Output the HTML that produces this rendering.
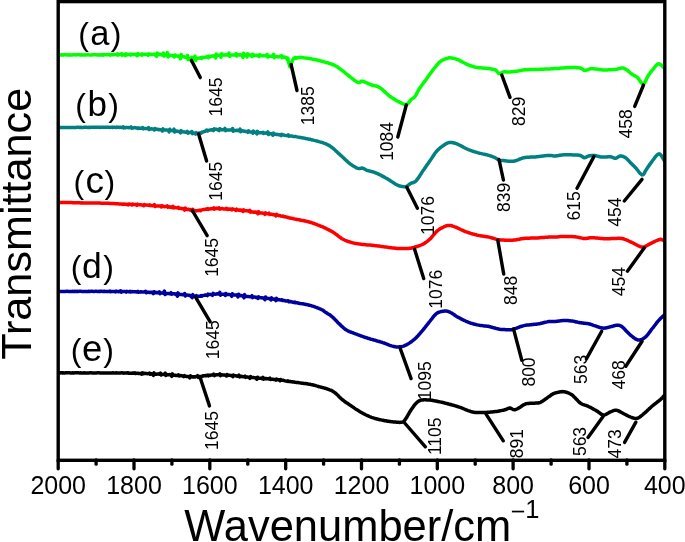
<!DOCTYPE html><html><head><meta charset="utf-8"><style>html,body{margin:0;padding:0;background:#fff;}svg{display:block;will-change:transform;}text{font-family:"Liberation Sans",sans-serif;}</style></head><body>
<svg width="685" height="542" viewBox="0 0 685 542">
<rect width="685" height="542" fill="#fff"/>
<path d="M58.5 54.9L59.0 55.0L59.6 54.9L60.2 54.9L60.9 54.9L61.7 54.8L62.4 54.9L63.3 55.0L64.1 54.8L65.0 54.8L66.0 54.8L67.0 54.9L68.0 54.9L69.0 54.8L70.1 55.0L71.1 54.9L72.2 54.9L73.4 54.8L74.5 54.8L75.7 54.9L76.8 54.8L78.0 54.8L79.2 54.8L80.4 54.9L81.5 54.8L82.7 54.9L83.9 54.9L85.1 54.8L86.2 54.9L87.4 54.8L88.5 54.8L89.6 54.9L90.7 54.9L91.8 54.9L92.8 54.8L93.8 54.8L94.8 54.8L95.8 54.7L96.7 54.9L97.6 54.9L98.4 54.8L99.2 54.9L100.0 54.9L101.5 54.7L102.8 55.2L103.5 54.5L104.0 54.7L105.1 54.6L106.2 54.8L107.1 54.8L108.0 54.7L108.8 54.6L109.6 54.7L110.4 55.1L111.1 54.4L111.2 54.5L112.0 54.7L112.7 54.7L113.6 54.7L114.4 54.5L115.4 54.6L116.4 54.8L117.5 53.9L118.2 55.1L118.7 54.6L120.0 54.5L120.8 54.5L121.6 53.6L122.3 55.3L122.5 54.4L123.4 54.8L124.4 54.6L125.4 55.6L126.1 53.8L126.4 54.4L127.4 54.7L128.4 54.4L129.5 54.4L130.6 55.1L131.3 54.0L131.7 54.2L132.8 54.4L133.9 54.5L135.0 54.3L136.1 54.5L137.2 55.7L137.9 53.6L138.4 54.2L139.5 54.6L140.6 54.5L141.7 55.1L142.4 53.9L142.8 54.4L143.9 54.5L145.0 54.3L146.0 54.4L147.1 54.2L148.1 55.1L148.8 53.9L149.0 54.2L150.0 54.5L150.9 54.2L151.8 54.5L152.7 54.4L153.5 54.3L154.3 54.2L155.0 54.5L156.6 56.3L157.3 53.1L158.0 54.5L159.3 54.3L160.5 54.5L161.6 54.9L162.5 54.9L163.4 53.0L164.1 56.1L164.3 54.8L165.1 54.9L165.9 55.1L166.7 55.0L167.4 52.6L168.1 57.1L168.3 55.4L169.1 55.5L170.0 55.3L171.1 55.4L172.2 55.4L173.3 55.9L174.3 56.9L175.0 55.0L175.4 55.9L176.5 56.1L177.5 55.9L178.5 56.4L179.5 56.0L180.5 58.8L181.2 54.5L181.4 56.5L182.2 56.6L183.0 56.8L184.3 56.8L185.5 57.3L186.5 57.7L187.5 55.3L188.2 59.6L188.3 58.1L189.2 58.2L190.0 58.7L191.1 60.8L191.8 57.3L192.1 58.8L193.1 59.0L194.0 58.9L195.0 56.1L195.7 60.4L196.0 58.5L197.0 58.4L198.0 58.3L199.0 58.1L200.0 58.0L200.8 57.8L201.5 58.5L202.2 57.3L202.3 57.7L203.4 57.6L205.0 57.5L205.7 57.1L206.5 56.8L207.4 56.8L208.3 57.7L209.0 56.2L209.3 56.6L210.3 56.7L211.3 56.3L212.4 56.0L213.5 55.9L214.6 55.7L215.7 57.9L216.4 54.1L216.8 55.6L217.9 55.3L219.0 55.1L220.0 55.2L221.0 57.1L221.7 53.7L222.0 55.0L223.0 54.9L224.0 55.0L225.0 54.9L226.0 54.8L227.0 54.9L228.0 55.0L229.0 53.0L229.7 56.4L230.0 55.0L231.0 54.9L232.0 55.1L233.0 54.9L234.0 55.1L235.0 55.1L236.0 53.6L236.7 56.0L237.0 54.8L238.0 54.8L239.0 55.0L240.0 54.8L241.0 55.1L242.0 54.9L243.0 57.4L243.7 53.3L244.0 54.8L245.0 55.0L246.0 55.1L247.0 57.0L247.7 53.7L248.0 55.0L249.0 54.9L250.0 54.9L251.0 55.1L252.0 56.5L252.7 54.2L253.0 55.2L254.0 55.5L255.0 55.3L256.0 55.6L257.0 55.2L258.0 55.6L259.0 56.6L259.7 54.7L260.0 55.6L261.0 55.4L262.0 55.6L263.0 55.7L264.0 55.9L265.0 55.7L266.0 55.9L267.1 54.4L267.8 57.0L268.2 55.8L269.2 56.2L270.4 56.3L271.5 56.3L272.6 56.4L273.6 54.4L274.3 57.7L274.7 56.4L275.7 56.6L276.7 56.5L277.6 56.8L278.5 56.9L279.3 56.7L280.0 56.6L281.5 55.6L282.2 57.8L282.6 56.7L283.5 57.1L284.2 56.9L284.9 57.3L285.5 57.2L286.6 57.9L287.3 59.6L288.0 58.2L288.0 60.2L289.0 63.6L289.8 66.6L290.6 65.4L291.5 63.2L292.4 60.7L293.5 58.7L294.3 58.2L295.1 57.3L295.8 58.4L296.1 57.8L297.0 57.8L297.7 57.8L298.3 57.4L299.3 57.4L301.0 57.6L301.7 57.6L302.4 57.6L303.3 57.7L304.2 57.9L305.1 57.9L306.1 58.1L307.2 58.2L308.2 58.3L309.3 58.5L310.5 58.7L311.6 58.8L312.7 59.2L313.9 59.5L315.0 59.5L315.9 59.7L316.8 59.9L317.8 60.4L318.8 60.5L319.8 60.8L320.9 61.0L322.0 61.2L323.0 61.6L324.1 61.8L325.1 62.2L326.2 62.5L327.2 62.7L328.2 62.9L329.1 63.3L330.0 63.6L330.9 63.9L331.7 64.2L332.5 64.5L333.8 65.0L334.9 65.5L335.8 66.0L336.6 66.5L337.4 66.9L338.2 67.5L339.0 68.2L340.1 68.9L341.3 69.8L342.1 70.4L343.0 71.1L344.0 71.9L345.0 72.7L346.0 73.6L347.1 74.5L348.3 75.4L349.4 76.3L350.5 77.2L351.6 78.0L352.6 78.9L353.6 79.7L354.6 80.4L355.5 81.1L356.3 81.6L357.0 82.0L358.4 82.6L359.4 82.6L360.1 82.1L360.7 81.7L361.3 81.2L362.3 81.2L363.1 81.4L364.0 81.7L364.9 82.1L365.9 82.5L366.9 83.0L368.0 83.4L369.0 83.9L370.0 84.3L371.0 84.7L372.0 85.0L372.9 85.3L373.9 85.5L374.9 85.8L375.9 86.0L376.9 86.3L377.8 86.6L378.8 87.1L379.8 87.6L380.8 88.3L381.8 89.1L382.8 89.9L383.8 90.9L384.9 91.9L385.8 92.8L386.8 93.7L387.7 94.5L388.6 95.3L389.6 96.1L390.6 96.8L391.6 97.5L392.5 98.0L393.3 98.6L394.2 99.1L395.0 99.6L395.9 100.2L396.8 100.7L397.7 101.2L398.5 101.6L399.4 102.1L400.3 102.5L401.1 102.9L402.0 103.3L402.9 103.8L403.9 104.3L404.8 104.5L405.6 104.6L406.4 104.6L407.4 104.1L408.3 103.2L409.1 102.1L410.0 100.9L410.8 99.9L411.7 99.2L412.5 98.6L413.4 98.0L414.2 97.4L415.1 96.4L415.9 95.1L416.7 93.6L417.5 92.0L418.5 90.2L419.5 88.5L420.4 87.2L421.3 85.9L422.3 84.5L423.4 83.1L424.4 81.7L425.5 80.3L426.5 78.9L427.5 77.5L428.5 76.1L429.5 74.7L430.5 73.3L431.5 71.9L432.5 70.6L433.5 69.3L434.5 68.0L435.5 66.8L436.5 65.5L437.5 64.4L438.5 63.3L439.5 62.2L440.5 61.4L441.5 60.7L442.6 60.1L443.7 59.6L444.7 59.2L445.8 58.8L446.7 58.6L447.5 58.3L448.5 57.9L449.2 57.8L450.0 57.8L451.0 57.9L451.8 58.0L452.7 58.2L453.7 58.4L454.7 58.6L455.8 58.9L456.9 59.3L458.0 59.7L458.9 60.1L459.8 60.6L460.8 61.1L461.8 61.6L462.8 62.3L463.8 62.8L464.8 63.3L465.8 63.8L466.8 64.3L467.8 64.7L468.8 65.1L469.7 65.4L470.7 65.8L471.7 66.1L472.7 66.5L473.7 66.7L474.6 67.0L475.6 67.2L476.6 67.4L477.6 67.6L478.6 67.7L479.6 67.8L480.6 67.8L481.5 67.9L482.5 68.0L483.4 68.1L484.3 68.2L485.4 68.3L486.5 68.4L487.6 68.6L488.6 68.6L489.5 68.7L490.5 68.8L491.3 69.0L492.4 69.2L493.3 69.3L494.1 69.5L494.9 69.7L495.7 70.1L496.6 70.9L497.4 72.0L498.3 73.1L499.2 73.6L500.0 73.5L500.8 73.2L501.7 72.7L502.6 72.2L503.6 71.9L504.4 71.8L505.2 71.8L506.1 71.9L506.9 71.9L507.9 72.0L508.9 72.0L510.0 72.0L510.8 71.9L511.7 71.8L512.7 71.8L513.7 71.6L514.8 71.5L515.8 71.3L516.8 71.2L517.7 71.0L518.5 70.9L519.3 70.8L520.4 70.6L521.1 70.4L521.7 70.2L522.5 70.1L524.0 69.9L524.7 69.8L525.5 69.8L526.3 69.7L527.2 69.7L528.1 69.7L529.1 69.7L530.1 69.6L531.2 69.6L532.3 69.6L533.4 69.6L534.5 69.5L535.7 69.5L536.8 69.4L538.0 69.4L538.9 69.4L539.8 69.3L540.8 69.3L541.8 69.3L542.8 69.2L543.8 69.2L544.8 69.1L545.9 69.0L547.0 69.0L548.0 69.0L549.1 68.9L550.1 68.9L551.2 68.8L552.2 68.7L553.1 68.7L554.1 68.7L555.0 68.6L555.9 68.6L556.7 68.5L557.9 68.4L559.1 68.4L560.1 68.2L561.1 68.1L562.1 68.0L563.0 68.0L563.9 67.9L564.8 67.8L565.6 67.7L566.5 67.7L567.4 67.6L568.4 67.6L569.4 67.6L570.4 67.6L571.5 67.6L572.6 67.5L573.6 67.6L574.7 67.6L575.7 67.6L576.7 67.7L577.7 67.7L578.6 67.8L579.4 67.9L580.1 68.0L581.5 68.5L582.4 69.0L583.1 69.6L583.8 70.2L584.8 70.4L585.6 70.4L586.5 70.1L587.4 69.8L588.4 69.5L589.4 69.1L590.5 68.8L591.8 68.7L592.6 68.7L593.5 68.7L594.4 68.9L595.4 69.0L596.3 69.1L597.4 69.2L598.4 69.3L599.4 69.5L600.5 69.7L601.5 69.8L602.5 69.9L603.5 69.9L604.5 69.9L605.5 69.9L606.5 69.9L607.5 69.9L608.6 69.8L609.6 69.8L610.6 69.8L611.6 69.7L612.5 69.6L613.4 69.6L614.3 69.5L615.1 69.4L616.4 69.2L617.5 69.0L618.5 68.7L619.5 68.4L620.4 68.2L621.3 68.0L622.1 68.0L623.2 68.1L624.1 68.4L625.0 68.9L625.9 69.3L626.8 69.9L627.7 70.5L628.6 71.4L629.5 72.2L630.5 73.1L631.5 73.9L632.4 74.4L633.3 75.0L634.3 75.5L635.3 76.0L636.3 76.6L637.3 77.4L638.3 78.5L639.3 79.9L640.3 81.4L641.3 82.7L642.3 83.6L643.2 83.9L644.2 83.2L645.2 81.7L646.1 79.9L647.0 77.9L647.9 76.2L648.8 74.8L649.7 73.6L650.6 72.3L651.5 71.1L652.5 69.9L653.4 68.8L654.4 67.5L655.4 66.2L656.4 65.1L657.4 64.3L658.4 63.8L659.4 64.0L660.6 64.6L661.7 65.5L662.7 66.5L663.6 67.5L664.2 68.0" fill="none" stroke="#00ff00" stroke-width="3.5" stroke-linejoin="round" stroke-linecap="round"/>
<path d="M59.2 127.5L59.7 127.5L60.3 127.4L60.9 127.4L61.6 127.5L62.3 127.5L63.1 127.5L63.9 127.5L64.8 127.5L65.6 127.5L66.6 127.4L67.5 127.4L68.5 127.4L69.5 127.5L70.6 127.4L71.6 127.4L72.7 127.5L73.8 127.4L75.0 127.4L76.1 127.5L77.2 127.3L78.4 127.3L79.6 127.4L80.7 127.3L81.9 127.4L83.1 127.4L84.3 127.3L85.4 127.3L86.6 127.3L87.8 127.4L88.9 127.3L90.0 127.4L91.1 127.3L92.2 127.3L93.3 127.3L94.4 127.3L95.4 127.3L96.4 127.3L97.4 127.3L98.3 127.2L99.2 127.3L100.1 127.4L100.9 127.3L101.7 127.3L103.0 127.3L104.3 127.3L105.5 127.3L106.7 127.2L107.8 127.3L108.9 127.3L109.9 127.4L110.9 127.3L111.9 127.1L112.6 127.5L112.8 127.4L113.7 127.2L114.6 127.2L115.5 127.4L116.3 127.6L117.0 127.1L117.2 127.2L118.0 127.3L118.9 127.3L119.7 127.4L120.6 127.2L121.4 127.4L122.3 127.3L123.2 126.9L123.9 127.9L124.1 127.4L125.1 127.7L126.1 127.5L127.1 127.6L128.0 127.5L129.0 127.7L130.0 127.6L131.0 126.9L131.7 128.3L131.9 127.6L132.9 127.9L133.9 127.8L134.9 127.8L135.8 127.8L136.8 127.9L137.8 128.5L138.5 127.8L138.8 128.2L139.7 128.3L140.7 128.3L141.7 128.1L142.7 127.6L143.4 128.8L143.6 128.5L144.6 128.4L145.6 128.6L146.6 128.5L147.5 128.7L148.5 127.6L149.2 129.5L149.5 128.9L150.5 128.9L151.4 128.8L152.4 128.9L153.4 128.9L154.4 130.0L155.1 128.5L155.4 129.2L156.4 129.1L157.4 129.3L158.4 129.7L159.4 129.5L160.4 129.7L161.4 129.9L162.4 131.0L163.1 128.9L163.4 130.0L164.4 130.1L165.3 130.0L166.3 130.0L167.2 130.1L168.2 130.4L169.1 131.9L169.8 129.3L170.0 130.2L170.9 130.3L171.8 130.4L172.9 130.7L174.0 129.2L174.7 132.0L175.1 130.8L176.2 130.9L177.3 131.3L178.4 131.4L179.5 131.4L180.5 132.9L181.2 130.6L181.6 131.6L182.6 131.7L183.6 131.9L184.6 132.0L185.5 132.2L186.4 132.1L187.3 131.3L188.0 133.1L188.2 132.5L189.0 132.6L189.8 132.6L190.5 132.5L191.9 131.5L192.6 133.7L193.0 133.0L194.0 133.1L194.9 133.4L195.6 134.1L196.3 132.7L196.4 133.2L197.1 133.2L197.8 133.3L198.7 133.1L199.6 133.2L200.5 132.8L201.4 133.1L202.1 132.1L202.3 132.2L203.3 131.9L204.2 131.5L205.1 131.3L206.0 130.7L206.9 130.0L207.6 131.0L207.8 130.4L208.8 130.3L209.8 130.1L210.7 130.1L211.7 129.8L212.6 129.7L213.5 130.6L214.2 128.8L214.3 129.4L215.0 129.3L215.9 129.1L216.3 129.2L217.0 129.4L219.0 130.6L219.7 128.7L219.6 129.5L220.4 129.6L221.2 129.5L222.0 129.8L222.9 129.8L223.9 129.8L224.9 128.4L225.6 130.7L225.9 129.9L227.0 130.0L228.1 129.9L229.2 130.0L230.4 129.9L231.5 130.0L232.6 128.5L233.3 131.3L233.7 130.1L234.8 130.4L235.9 130.5L237.0 130.2L238.0 130.4L239.0 130.8L240.0 129.0L240.7 131.8L241.0 130.9L242.0 131.0L243.0 130.8L244.0 131.2L245.0 131.3L246.0 131.4L247.0 131.4L247.9 132.3L248.6 130.8L248.9 131.7L249.9 131.9L250.9 132.0L251.9 132.0L252.9 133.3L253.6 131.1L253.9 132.2L254.9 132.2L255.9 132.3L256.9 133.9L257.6 131.4L257.9 132.6L258.9 132.6L259.9 132.8L260.9 132.7L261.9 132.8L262.9 132.3L263.6 133.5L263.9 133.2L264.9 133.1L265.9 133.1L266.9 133.5L267.9 131.9L268.6 134.5L268.9 133.4L269.9 133.9L270.9 133.7L271.9 133.7L272.9 135.2L273.6 133.1L273.9 133.9L274.9 134.3L275.9 134.3L276.9 134.6L277.9 134.6L278.9 134.7L280.0 134.9L281.0 135.7L281.7 134.3L282.0 135.0L283.1 135.1L284.1 135.1L285.1 135.4L286.2 135.6L287.2 135.7L288.2 134.9L288.9 136.2L289.2 135.9L290.2 136.1L291.2 136.0L292.1 136.1L293.1 136.5L294.0 136.5L294.9 136.6L296.0 136.6L297.0 136.9L298.0 137.1L299.0 137.3L300.0 137.5L301.0 137.6L302.0 137.8L302.9 138.0L303.9 138.1L304.8 138.3L305.7 138.5L306.6 138.7L307.5 138.8L308.3 139.0L309.2 139.2L310.0 139.3L311.1 139.6L312.2 140.0L313.2 140.1L314.3 140.4L315.3 140.6L316.3 140.9L317.2 141.2L318.2 141.3L319.0 141.6L319.9 141.9L320.7 142.1L321.4 142.3L322.7 142.7L323.7 143.1L324.6 143.4L325.4 143.7L326.2 144.0L327.0 144.5L328.0 144.9L328.9 145.4L329.8 145.9L330.8 146.6L332.0 147.5L332.8 148.2L333.7 148.9L334.7 149.8L335.7 150.7L336.7 151.6L337.7 152.6L338.8 153.6L339.8 154.5L340.8 155.4L341.8 156.3L342.8 157.2L343.7 158.1L344.7 159.1L345.7 160.0L346.7 160.9L347.6 161.7L348.6 162.6L349.5 163.3L350.5 164.1L351.6 164.9L352.6 165.6L353.7 166.3L354.7 166.8L355.6 167.4L356.5 167.9L357.4 168.2L358.4 168.4L359.4 168.5L360.3 168.4L361.1 168.2L361.9 168.1L362.7 168.2L363.6 168.5L364.3 168.9L365.0 169.3L365.9 169.8L367.0 170.3L367.8 170.6L368.6 170.8L369.5 171.0L370.5 171.3L371.5 171.5L372.6 171.8L373.6 172.1L374.7 172.5L375.8 172.9L376.7 173.3L377.6 173.7L378.5 174.1L379.5 174.6L380.5 175.0L381.4 175.6L382.4 176.1L383.4 176.6L384.4 177.1L385.3 177.7L386.3 178.2L387.3 178.8L388.3 179.4L389.3 180.0L390.3 180.7L391.4 181.4L392.4 182.1L393.4 182.7L394.3 183.3L395.2 183.9L396.0 184.4L396.8 184.8L398.0 185.4L399.0 185.8L399.8 186.0L400.5 186.2L401.2 186.3L402.0 186.4L402.9 186.6L403.8 186.7L404.7 186.7L405.5 186.6L406.4 186.4L407.3 186.0L408.1 185.4L409.0 184.7L409.9 184.0L410.8 183.4L411.6 183.0L412.4 182.8L413.3 182.5L414.2 182.2L415.1 181.7L416.1 180.8L417.0 179.7L418.0 178.4L419.0 177.0L420.0 175.4L421.1 173.7L422.1 172.1L423.1 170.6L424.1 169.2L425.1 167.7L426.1 166.3L427.1 164.8L428.1 163.4L429.1 162.0L430.1 160.6L431.1 159.1L432.1 157.6L433.0 156.2L434.0 154.7L435.0 153.3L436.0 152.0L437.1 150.7L438.0 149.8L438.9 148.9L439.9 148.1L440.8 147.3L441.8 146.6L442.7 145.9L443.7 145.3L444.5 144.7L445.3 144.2L446.3 143.6L447.2 143.1L448.0 142.8L448.7 142.5L449.6 142.4L450.5 142.4L451.4 142.4L452.3 142.5L453.2 142.7L454.2 143.0L455.2 143.3L456.3 143.7L457.5 144.2L458.3 144.5L459.2 145.0L460.1 145.4L461.1 145.9L462.0 146.4L463.0 146.9L464.0 147.5L465.0 148.0L466.0 148.5L467.0 149.0L468.0 149.4L469.0 149.8L469.9 150.1L470.9 150.5L471.8 150.9L472.8 151.2L473.7 151.5L474.7 151.8L475.6 152.1L476.6 152.3L477.5 152.6L478.5 152.9L479.5 153.2L480.5 153.4L481.5 153.6L482.5 153.9L483.5 154.1L484.5 154.3L485.4 154.5L486.4 154.7L487.3 154.9L488.2 155.2L489.0 155.4L490.2 155.8L491.4 156.2L492.4 156.6L493.4 157.0L494.4 157.4L495.2 157.8L496.0 158.2L497.1 158.9L498.0 159.6L498.7 160.2L499.5 160.6L500.2 160.7L500.8 160.7L501.6 160.6L503.0 160.6L503.7 160.6L504.5 160.7L505.4 160.8L506.3 160.9L507.3 161.1L508.4 161.2L509.5 161.3L510.5 161.3L511.6 161.3L512.6 161.3L513.6 161.2L514.6 161.0L515.5 160.8L516.4 160.5L517.4 160.1L518.3 159.8L519.2 159.3L520.2 159.0L521.1 158.6L522.1 158.2L523.1 157.9L524.1 157.7L525.0 157.5L525.9 157.4L526.8 157.3L527.7 157.2L528.7 157.2L529.6 157.2L530.6 157.1L531.5 157.0L532.5 157.0L533.4 157.0L534.4 157.0L535.4 156.9L536.3 156.8L537.3 156.7L538.2 156.6L539.3 156.4L540.3 156.3L541.3 156.2L542.3 156.1L543.3 155.9L544.3 155.8L545.2 155.7L546.2 155.6L547.0 155.5L547.8 155.4L548.6 155.4L549.8 155.4L550.8 155.5L551.7 155.6L552.4 155.7L553.2 155.9L554.0 156.0L555.0 156.0L555.8 155.9L556.7 155.8L557.7 155.7L558.6 155.5L559.6 155.3L560.5 155.2L561.5 155.0L562.5 154.9L563.4 154.8L564.3 154.8L565.3 154.7L566.2 154.7L567.1 154.7L568.1 154.7L569.0 154.7L569.9 154.7L570.9 154.8L571.8 154.8L572.8 154.9L573.7 154.9L574.8 154.9L575.8 155.0L576.8 155.0L577.7 155.1L578.6 155.2L579.5 155.3L580.2 155.5L581.3 155.9L582.2 156.5L582.9 157.0L583.6 157.5L584.4 157.7L585.2 157.6L586.0 157.3L586.8 156.8L587.7 156.3L588.6 156.0L589.5 155.8L590.3 155.7L591.3 155.6L592.3 155.5L593.3 155.4L594.4 155.5L595.3 155.6L596.2 155.8L597.1 156.1L598.0 156.3L599.0 156.5L600.0 156.8L601.0 157.0L602.0 157.1L602.9 157.1L603.9 157.1L604.9 157.1L605.9 157.0L606.9 156.9L607.8 156.8L608.7 156.8L609.6 156.8L610.4 156.8L611.6 157.0L612.6 157.4L613.6 157.8L614.5 158.2L615.4 158.2L616.4 158.0L617.4 157.4L618.4 156.8L619.4 156.2L620.4 156.0L621.2 156.0L622.1 156.2L622.9 156.4L623.8 156.8L624.7 157.2L625.5 157.7L626.5 158.5L627.5 159.5L628.5 160.5L629.5 161.6L630.5 162.7L631.5 163.7L632.4 164.6L633.4 165.5L634.4 166.6L635.5 167.7L636.4 168.7L637.4 170.0L638.4 171.3L639.4 172.6L640.4 173.7L641.4 174.5L642.2 174.9L643.2 174.7L644.0 173.8L644.7 172.4L645.5 170.9L646.4 169.4L647.3 168.1L648.2 166.8L649.2 165.3L650.2 163.8L651.3 162.4L652.3 161.0L653.2 159.8L654.2 158.5L655.2 157.1L656.2 155.9L657.2 154.8L658.1 154.1L659.0 153.8L660.0 154.2L661.0 155.2L662.0 156.6L662.8 158.1L663.6 159.4L664.1 160.2" fill="none" stroke="#008080" stroke-width="3.5" stroke-linejoin="round" stroke-linecap="round"/>
<path d="M59.2 202.5L59.7 202.5L60.3 202.6L60.9 202.5L61.6 202.5L62.3 202.5L63.1 202.6L63.9 202.5L64.8 202.6L65.6 202.6L66.6 202.6L67.5 202.6L68.5 202.6L69.5 202.6L70.6 202.6L71.6 202.6L72.7 202.7L73.8 202.7L75.0 202.8L76.1 202.8L77.2 202.8L78.4 202.8L79.6 202.8L80.7 202.9L81.9 202.8L83.1 202.9L84.3 202.9L85.4 202.9L86.6 202.9L87.8 202.9L88.9 202.9L90.0 203.0L91.1 203.0L92.2 203.0L93.3 203.0L94.4 203.1L95.4 203.0L96.4 203.1L97.4 203.1L98.3 203.1L99.2 203.1L100.1 203.1L100.9 203.2L101.7 203.2L103.0 203.2L104.3 203.3L105.5 203.3L106.7 203.3L107.8 203.3L108.9 203.3L109.9 203.5L110.9 203.6L111.9 203.5L112.8 203.6L113.7 203.5L114.6 203.6L115.5 203.8L116.3 203.8L117.2 203.8L118.0 203.8L118.9 203.9L119.7 204.0L120.6 204.1L121.4 204.0L122.3 204.2L123.2 204.1L124.1 204.2L125.1 204.1L126.1 204.4L127.1 204.3L128.0 204.9L128.7 204.0L129.0 204.4L130.0 204.3L131.0 204.5L131.9 204.9L132.6 204.2L132.9 204.6L133.9 204.4L134.9 204.5L135.8 204.5L136.8 205.3L137.5 204.2L137.8 204.8L138.8 204.8L139.7 204.7L140.7 204.8L141.7 204.9L142.7 205.1L143.6 205.7L144.3 204.5L144.6 205.2L145.6 204.9L146.6 205.1L147.5 205.1L148.5 205.3L149.5 204.9L150.2 205.7L150.5 205.6L151.4 205.4L152.4 205.7L153.4 205.5L154.4 204.6L155.1 206.5L155.4 205.7L156.4 205.9L157.4 205.9L158.4 205.9L159.4 206.0L160.4 206.0L161.4 207.0L162.1 205.7L162.4 206.1L163.4 206.2L164.4 206.7L165.3 206.6L166.3 206.6L167.2 205.9L167.9 207.3L168.2 206.8L169.1 206.7L170.0 207.2L170.9 206.9L171.8 207.4L172.9 206.3L173.6 208.0L174.0 207.4L175.1 207.4L176.2 207.7L177.3 207.9L178.4 207.4L179.1 208.4L179.5 208.0L180.6 208.5L181.7 208.4L182.7 208.8L183.7 208.8L184.7 210.2L185.4 208.1L185.6 209.2L186.5 209.0L187.4 209.6L188.3 209.3L189.0 209.5L189.8 209.9L190.5 209.6L192.1 211.0L192.8 209.4L193.3 210.2L194.2 210.5L194.9 210.6L195.7 210.8L196.5 210.9L197.5 210.5L198.3 210.5L199.2 210.5L200.1 210.0L200.8 210.6L201.0 210.1L201.9 209.9L202.8 209.6L203.8 209.4L204.8 209.5L205.8 209.1L206.9 209.2L207.7 208.5L208.4 209.4L208.5 209.0L209.4 209.0L210.2 208.9L211.0 208.7L211.9 208.8L212.8 208.5L213.7 207.8L214.4 209.2L214.7 208.7L215.7 208.5L216.7 208.3L217.8 208.4L219.0 207.9L219.7 209.1L219.8 208.8L220.7 208.9L221.6 208.6L222.5 208.6L223.5 208.9L224.5 209.0L225.5 208.9L226.5 208.3L227.2 209.4L227.6 209.0L228.6 209.0L229.7 209.2L230.7 209.0L231.8 209.9L232.5 208.9L232.8 209.3L233.9 209.3L234.9 209.8L236.0 210.4L236.7 209.2L237.0 209.9L238.0 209.9L239.0 210.2L240.0 209.9L241.0 210.4L242.0 210.2L243.0 211.4L243.7 209.8L244.0 210.6L245.0 210.8L246.0 210.7L247.0 210.8L247.9 210.9L248.9 211.2L249.9 210.3L250.6 212.2L250.9 211.6L251.9 211.8L252.9 211.9L253.9 212.2L254.9 212.0L255.9 212.3L256.9 212.2L257.9 213.7L258.6 211.7L258.9 212.8L259.9 212.9L260.9 213.0L261.9 213.1L262.9 213.2L263.9 213.2L264.9 214.3L265.6 212.8L265.9 213.6L266.9 213.7L267.9 213.8L268.9 213.2L269.6 214.4L269.9 214.1L270.9 214.2L271.9 214.3L272.9 214.7L273.9 214.6L274.9 215.0L275.9 215.9L276.6 214.4L276.9 215.1L277.9 215.2L278.9 215.6L280.0 215.7L281.0 216.1L282.0 216.3L283.1 216.0L283.8 216.7L284.1 216.8L285.1 216.7L286.2 217.0L287.2 217.2L288.2 217.5L289.2 217.9L290.2 218.0L291.2 218.2L292.1 218.4L293.1 218.5L294.0 218.8L294.9 219.1L296.0 219.3L297.0 219.5L298.0 219.6L299.0 219.8L300.0 220.0L301.0 220.3L302.0 220.4L302.9 220.5L303.9 220.7L304.8 221.0L305.7 221.1L306.6 221.4L307.5 221.5L308.3 221.7L309.2 222.0L310.0 222.2L311.1 222.5L312.2 222.9L313.3 223.2L314.4 223.7L315.4 224.0L316.4 224.4L317.4 224.8L318.3 225.1L319.2 225.5L320.0 225.8L320.7 226.2L321.4 226.4L322.7 226.9L323.4 227.2L323.9 227.4L325.0 228.0L325.8 228.3L326.6 228.8L327.6 229.2L328.6 229.7L329.6 230.4L330.7 230.9L331.8 231.5L332.8 232.1L333.8 232.7L334.8 233.3L335.7 234.1L336.7 234.8L337.7 235.5L338.6 236.3L339.6 237.1L340.6 237.7L341.5 238.4L342.5 239.0L343.5 239.5L344.5 240.0L345.4 240.4L346.4 240.8L347.4 241.2L348.4 241.5L349.3 241.8L350.3 242.1L351.3 242.4L352.2 242.7L353.1 242.9L353.9 243.1L354.7 243.3L355.5 243.4L356.5 243.6L357.5 243.7L358.6 243.9L360.0 244.1L360.8 244.2L361.6 244.3L362.4 244.4L363.3 244.5L364.2 244.6L365.2 244.7L366.2 244.8L367.2 244.9L368.2 245.0L369.2 245.1L370.3 245.1L371.3 245.2L372.4 245.3L373.4 245.5L374.5 245.6L375.5 245.7L376.5 245.8L377.5 245.9L378.5 246.0L379.5 246.1L380.5 246.3L381.5 246.4L382.5 246.6L383.5 246.7L384.5 246.9L385.6 247.0L386.6 247.1L387.6 247.3L388.6 247.4L389.6 247.6L390.5 247.7L391.5 247.8L392.4 247.9L393.3 248.0L394.2 248.1L395.0 248.2L396.1 248.3L397.2 248.4L398.3 248.5L399.3 248.5L400.4 248.5L401.3 248.5L402.3 248.6L403.2 248.6L404.1 248.6L404.9 248.6L405.8 248.6L406.5 248.5L407.3 248.5L408.6 248.4L409.6 248.3L410.6 248.2L411.5 248.0L412.3 247.8L413.3 247.6L414.3 247.3L415.2 247.0L416.2 246.7L417.2 246.5L418.2 246.1L419.2 245.8L420.2 245.4L421.2 245.0L422.2 244.5L423.1 244.1L424.2 243.5L425.2 242.8L426.2 242.1L427.2 241.4L428.2 240.6L429.1 239.8L430.1 238.9L431.1 237.9L432.1 236.7L433.1 235.5L434.1 234.3L435.1 233.1L436.1 232.0L437.1 231.0L438.0 230.3L439.0 229.6L439.9 228.9L440.9 228.4L441.8 227.9L442.7 227.4L443.6 227.0L444.4 226.6L445.4 226.2L446.3 225.8L447.1 225.6L447.9 225.5L448.7 225.4L449.6 225.4L450.4 225.5L451.2 225.6L452.0 225.8L452.8 226.1L453.7 226.4L454.7 226.8L455.8 227.2L456.6 227.5L457.4 227.9L458.3 228.3L459.2 228.8L460.2 229.2L461.2 229.7L462.2 230.2L463.2 230.6L464.2 231.1L465.3 231.5L466.3 231.9L467.2 232.2L468.1 232.5L469.0 232.8L470.0 233.1L470.9 233.4L471.9 233.7L472.9 234.0L473.9 234.2L474.8 234.5L475.8 234.7L476.7 235.0L477.6 235.2L478.5 235.4L479.5 235.6L480.5 235.8L481.6 236.0L482.6 236.1L483.5 236.2L484.5 236.4L485.4 236.5L486.4 236.7L487.3 236.8L488.1 236.9L489.0 237.1L490.1 237.4L491.2 237.7L492.2 238.0L493.2 238.3L494.2 238.6L495.1 238.9L496.0 239.2L496.9 239.4L497.8 239.6L498.6 239.8L499.4 239.8L500.2 239.9L501.0 240.0L501.9 240.0L503.0 240.1L503.8 240.1L504.7 240.2L505.6 240.2L506.5 240.2L507.5 240.3L508.5 240.3L509.6 240.3L510.6 240.2L511.6 240.2L512.6 240.2L513.6 240.1L514.6 240.0L515.5 239.9L516.4 239.7L517.4 239.5L518.3 239.4L519.2 239.2L520.2 239.0L521.1 238.8L522.1 238.7L523.1 238.5L524.1 238.4L525.0 238.3L525.9 238.3L526.8 238.2L527.7 238.2L528.7 238.2L529.6 238.2L530.6 238.1L531.5 238.1L532.5 238.1L533.4 238.1L534.4 238.1L535.4 238.0L536.3 238.0L537.3 237.9L538.2 237.9L539.3 237.8L540.3 237.7L541.3 237.6L542.3 237.6L543.3 237.5L544.3 237.4L545.2 237.3L546.2 237.2L547.0 237.2L547.8 237.2L548.6 237.1L549.8 237.1L550.8 237.1L551.7 237.1L552.4 237.1L553.2 237.1L554.0 237.1L555.0 237.1L555.8 237.0L556.7 237.0L557.5 236.9L558.4 236.8L559.3 236.7L560.3 236.6L561.3 236.6L562.3 236.5L563.4 236.5L564.3 236.5L565.2 236.5L566.1 236.5L567.1 236.5L568.2 236.5L569.2 236.5L570.2 236.5L571.3 236.6L572.3 236.6L573.3 236.7L574.2 236.7L575.1 236.8L576.1 236.9L577.1 237.1L578.1 237.3L579.1 237.5L580.0 237.7L580.9 237.9L581.8 238.1L582.7 238.3L583.6 238.4L584.4 238.5L585.4 238.5L586.3 238.4L587.1 238.3L587.9 238.2L588.7 238.0L589.7 237.8L590.7 237.7L591.9 237.7L592.7 237.7L593.5 237.8L594.5 237.8L595.4 237.9L596.5 238.0L597.5 238.1L598.5 238.2L599.6 238.3L600.6 238.4L601.7 238.5L602.7 238.6L603.6 238.7L604.5 238.7L605.3 238.8L606.5 238.8L607.5 238.8L608.5 238.8L609.4 238.8L610.2 238.7L611.1 238.6L611.9 238.6L612.8 238.5L613.7 238.5L614.6 238.5L615.6 238.4L616.5 238.4L617.4 238.3L618.4 238.3L619.3 238.2L620.2 238.3L621.2 238.4L622.1 238.5L623.0 238.7L624.0 239.0L625.0 239.4L625.9 239.7L626.9 240.2L627.8 240.5L628.7 241.0L629.6 241.4L630.5 241.8L631.6 242.3L632.6 242.8L633.5 243.3L634.5 243.8L635.4 244.3L636.3 244.8L637.2 245.2L638.2 245.7L639.2 246.2L640.2 246.6L641.2 247.0L642.1 247.1L643.1 247.2L644.1 247.0L645.0 246.6L646.0 246.1L647.0 245.5L648.0 244.9L649.0 244.4L649.9 243.9L650.9 243.4L651.9 242.9L652.9 242.4L653.9 241.9L654.8 241.4L655.7 241.0L656.8 240.5L657.9 240.1L658.9 239.6L659.8 239.4L660.7 239.3L661.7 239.5L662.7 240.1L663.5 240.6L664.1 241.0" fill="none" stroke="#ff0000" stroke-width="3.5" stroke-linejoin="round" stroke-linecap="round"/>
<path d="M59.2 291.4L59.7 291.4L60.3 291.5L60.9 291.4L61.6 291.4L62.3 291.4L63.1 291.4L63.9 291.4L64.8 291.4L65.6 291.4L66.6 291.3L67.5 291.3L68.5 291.5L69.5 291.4L70.6 291.4L71.6 291.4L72.7 291.3L73.8 291.4L75.0 291.3L76.1 291.4L77.2 291.3L78.4 291.4L79.6 291.3L80.7 291.3L81.9 291.4L83.1 291.5L84.3 291.4L85.4 291.4L86.6 291.4L87.8 291.4L88.9 291.3L90.0 291.4L91.1 291.3L92.2 291.3L93.3 291.4L94.4 291.4L95.4 291.3L96.4 291.3L97.4 291.4L98.3 291.4L99.2 291.3L100.1 291.5L100.9 291.3L101.7 291.3L103.0 291.5L104.3 291.3L105.5 291.4L106.7 291.4L107.8 291.5L108.9 291.4L109.9 291.0L110.6 291.7L110.9 291.5L111.9 291.4L112.8 291.4L113.7 291.4L114.6 291.5L115.5 291.9L116.2 291.1L116.3 291.5L117.2 291.6L118.0 291.5L118.9 291.7L119.7 291.3L120.6 290.8L121.3 292.1L121.4 291.5L122.3 291.4L123.2 291.6L124.1 291.6L125.1 291.5L126.1 292.1L126.8 291.3L127.1 291.4L128.0 291.7L129.0 291.7L130.0 291.2L130.7 292.0L131.0 291.9L131.9 291.5L132.9 291.7L133.9 291.8L134.9 291.7L135.8 291.7L136.8 292.0L137.8 291.4L138.5 292.2L138.8 292.0L139.7 292.1L140.7 291.8L141.7 292.1L142.7 291.9L143.6 292.1L144.6 292.0L145.6 291.3L146.3 292.8L146.6 292.0L147.5 292.3L148.5 292.3L149.5 292.5L150.5 292.2L151.4 292.6L152.4 292.3L153.4 293.7L154.1 291.7L154.4 292.4L155.4 292.8L156.4 292.5L157.4 292.6L158.4 292.9L159.4 291.8L160.1 293.6L160.4 292.8L161.4 293.1L162.4 292.9L163.4 293.2L164.4 291.1L165.1 294.6L165.3 293.4L166.3 293.4L167.2 293.4L168.2 293.4L169.1 293.7L170.0 293.5L170.9 292.7L171.6 294.3L171.8 293.9L172.9 293.8L174.0 293.7L175.1 294.2L176.3 294.0L177.4 296.1L178.1 292.9L178.5 294.1L179.6 294.5L180.7 294.4L181.7 294.5L182.8 294.7L183.8 294.9L184.7 293.5L185.4 296.0L185.7 295.2L186.6 294.9L187.5 295.1L188.3 295.2L189.1 295.3L189.8 295.6L190.5 295.6L192.2 297.6L192.9 294.6L193.3 296.0L194.1 296.1L194.7 296.2L195.4 296.4L196.4 295.6L197.1 297.1L197.2 296.7L198.1 296.5L199.1 296.3L200.0 296.3L201.0 295.5L201.7 296.2L201.9 296.0L202.9 295.5L203.7 295.4L204.5 295.3L205.6 295.0L206.5 295.1L207.3 295.6L208.0 294.2L208.3 294.7L209.5 294.4L210.2 294.6L211.0 294.6L211.7 294.4L212.5 295.3L213.2 293.4L213.4 294.0L214.3 293.9L215.3 294.2L216.4 294.0L217.6 293.7L219.0 294.1L219.8 292.4L220.5 295.2L220.6 293.9L221.5 294.2L222.4 294.2L223.3 294.3L224.3 294.1L225.3 295.5L226.0 293.5L226.3 294.4L227.4 294.6L228.4 294.5L229.5 294.6L230.6 294.8L231.7 296.3L232.4 293.7L232.8 295.0L233.8 295.1L234.9 295.0L236.0 295.0L237.0 295.0L238.0 296.9L238.7 294.2L239.0 295.5L240.0 295.4L241.0 295.8L242.0 295.5L243.0 295.9L244.0 297.8L244.7 294.6L245.0 295.9L246.0 296.3L247.0 296.4L247.9 296.4L248.9 296.6L249.9 296.8L250.9 296.6L251.9 295.7L252.6 297.7L252.9 297.2L253.9 296.9L254.9 297.0L255.9 297.5L256.9 297.3L257.9 298.4L258.6 296.9L258.9 297.5L259.9 297.6L260.9 297.8L261.9 297.7L262.9 298.1L263.9 298.0L264.9 299.7L265.6 297.0L265.9 298.4L266.9 298.1L267.9 298.4L268.9 298.5L269.9 298.8L270.9 299.9L271.6 297.9L271.9 299.0L272.9 299.0L273.9 299.2L274.9 299.0L275.9 300.6L276.6 298.4L276.9 299.3L277.9 299.8L278.9 299.6L280.0 299.9L281.0 300.0L282.0 299.7L282.7 300.6L283.1 300.6L284.1 300.4L285.1 300.7L286.2 301.0L287.2 300.9L288.2 300.7L288.9 301.7L289.2 301.5L290.2 301.5L291.2 301.8L292.1 301.9L293.1 302.2L294.0 302.5L294.9 302.1L295.6 302.8L296.0 302.8L297.0 302.8L298.0 303.0L299.0 303.3L300.0 303.4L301.0 303.6L302.0 303.8L302.9 303.8L303.9 304.1L304.8 304.2L305.7 304.5L306.6 304.6L307.5 304.7L308.3 304.9L309.2 305.3L310.0 305.3L311.1 305.7L312.2 306.1L313.3 306.3L314.4 306.7L315.4 307.1L316.4 307.4L317.4 307.9L318.3 308.2L319.2 308.6L320.0 308.9L320.7 309.2L321.4 309.6L322.8 310.1L323.5 310.7L324.0 311.2L325.0 312.0L325.8 312.4L326.8 313.0L327.8 313.7L328.8 314.3L329.9 314.9L331.0 315.8L332.0 316.6L333.0 317.5L334.0 318.5L335.0 319.5L336.0 320.6L337.0 321.6L338.0 322.7L339.0 323.6L340.0 324.5L340.9 325.5L341.9 326.4L342.9 327.3L343.9 328.2L344.9 329.0L346.0 329.8L346.9 330.3L347.7 330.8L348.6 331.2L349.5 331.6L350.4 332.0L351.4 332.3L352.5 332.7L353.6 333.2L354.8 333.6L355.6 333.9L356.5 334.2L357.5 334.6L358.4 334.9L359.4 335.3L360.4 335.7L361.5 336.0L362.5 336.4L363.6 336.8L364.6 337.2L365.7 337.5L366.8 337.8L367.8 338.2L368.8 338.5L369.8 338.8L370.8 339.2L371.9 339.4L373.0 339.7L374.0 340.1L375.1 340.3L376.1 340.6L377.2 341.0L378.2 341.3L379.2 341.5L380.2 341.8L381.1 342.1L382.0 342.3L382.8 342.6L384.0 343.0L385.1 343.4L386.2 343.9L387.1 344.2L388.0 344.6L388.9 345.0L389.8 345.4L390.6 345.6L391.5 345.9L392.5 346.1L393.4 346.4L394.3 346.5L395.2 346.7L396.0 346.9L396.9 346.9L397.7 346.9L398.6 346.9L399.6 346.8L400.6 346.7L401.5 346.6L402.5 346.4L403.5 346.1L404.5 345.7L405.6 345.2L406.5 344.8L407.4 344.2L408.4 343.7L409.3 343.1L410.3 342.4L411.3 341.8L412.3 341.0L413.3 340.2L414.3 339.4L415.3 338.5L416.3 337.5L417.3 336.4L418.3 335.4L419.3 334.2L420.3 333.1L421.3 331.9L422.2 330.9L423.1 329.8L424.2 328.5L425.2 327.2L426.2 325.9L427.2 324.7L428.2 323.4L429.1 322.2L430.1 321.0L431.1 319.7L432.1 318.5L433.0 317.2L434.0 316.0L435.0 314.9L436.0 313.9L437.1 313.1L438.0 312.6L438.9 312.2L439.9 311.9L440.8 311.6L441.8 311.5L442.7 311.3L443.7 311.2L444.5 311.1L445.3 311.1L446.3 311.1L447.2 311.2L448.0 311.4L448.7 311.7L449.6 312.0L450.5 312.5L451.4 312.9L452.3 313.5L453.2 314.1L454.2 314.8L455.2 315.5L456.3 316.2L457.5 316.9L458.3 317.4L459.2 317.8L460.1 318.3L461.1 318.9L462.0 319.3L463.0 319.9L464.0 320.3L465.0 320.8L466.0 321.3L467.0 321.7L468.0 322.1L469.0 322.5L469.9 322.8L470.9 323.2L471.8 323.4L472.8 323.7L473.7 324.0L474.7 324.2L475.6 324.4L476.6 324.7L477.5 324.9L478.5 325.1L479.5 325.3L480.4 325.4L481.4 325.6L482.3 325.6L483.3 325.8L484.2 325.9L485.2 325.9L486.1 326.1L487.1 326.2L488.0 326.3L489.0 326.5L490.0 326.7L490.9 327.0L491.9 327.2L492.8 327.5L493.8 327.8L494.7 328.0L495.7 328.3L496.6 328.6L497.6 328.8L498.5 329.0L499.5 329.2L500.5 329.4L501.5 329.4L502.6 329.5L503.6 329.6L504.7 329.6L505.7 329.7L506.7 329.7L507.6 329.7L508.5 329.7L509.3 329.7L510.0 329.7L511.2 329.7L511.8 329.7L512.4 329.6L513.6 329.2L514.3 329.0L515.0 328.7L515.9 328.4L516.8 328.0L517.7 327.7L518.7 327.3L519.7 326.9L520.8 326.5L521.9 326.2L523.0 325.9L524.1 325.6L525.0 325.4L525.9 325.2L526.9 325.1L527.9 325.0L529.0 324.9L530.0 324.8L531.1 324.7L532.2 324.5L533.2 324.5L534.3 324.3L535.3 324.2L536.3 324.2L537.2 324.0L538.1 323.9L539.2 323.7L540.3 323.5L541.3 323.2L542.3 323.0L543.3 322.7L544.3 322.5L545.2 322.3L546.1 322.1L547.0 321.9L547.8 321.7L548.6 321.6L549.7 321.5L550.7 321.5L551.5 321.5L552.3 321.5L553.1 321.5L554.0 321.5L555.0 321.5L555.8 321.4L556.7 321.3L557.7 321.2L558.6 321.0L559.6 320.9L560.5 320.8L561.5 320.7L562.5 320.6L563.4 320.5L564.3 320.5L565.3 320.5L566.2 320.5L567.1 320.6L568.1 320.6L569.0 320.7L569.9 320.8L570.9 320.9L571.8 321.0L572.7 321.1L573.7 321.3L574.6 321.5L575.5 321.7L576.5 322.0L577.4 322.1L578.3 322.4L579.3 322.5L580.2 322.7L581.1 322.8L582.1 323.0L583.0 323.0L583.9 323.2L584.9 323.2L585.8 323.4L586.7 323.5L587.7 323.6L588.6 323.8L589.5 324.0L590.5 324.3L591.5 324.6L592.4 324.9L593.4 325.3L594.3 325.6L595.2 325.9L596.1 326.2L597.0 326.5L598.0 326.8L599.0 327.2L600.0 327.5L600.9 327.7L601.8 328.0L602.8 328.1L603.7 328.2L604.7 328.1L605.6 328.0L606.6 327.8L607.5 327.6L608.5 327.3L609.4 327.1L610.4 326.8L611.4 326.6L612.4 326.2L613.4 326.0L614.3 325.7L615.3 325.4L616.2 325.3L617.1 325.2L618.2 325.2L619.1 325.3L620.1 325.7L621.0 326.1L622.1 326.8L623.0 327.5L623.9 328.4L624.9 329.5L625.8 330.5L626.8 331.6L627.8 332.6L628.8 333.6L629.8 334.4L630.8 335.4L631.8 336.2L632.8 337.0L633.8 337.7L634.7 338.4L635.5 338.9L636.5 339.4L637.3 339.8L638.0 340.0L638.8 340.0L639.7 339.9L640.6 339.7L641.5 339.4L642.5 339.0L643.5 338.4L644.6 337.8L645.6 336.9L646.5 336.0L647.5 334.9L648.4 333.7L649.4 332.4L650.4 331.1L651.3 329.7L652.3 328.5L653.3 327.3L654.3 326.0L655.3 324.7L656.2 323.4L657.2 322.2L658.1 321.1L659.0 320.1L660.0 319.0L661.0 318.0L662.0 317.1L662.8 316.3L663.6 315.6L664.1 315.1" fill="none" stroke="#00009c" stroke-width="3.5" stroke-linejoin="round" stroke-linecap="round"/>
<path d="M59.2 372.7L59.7 372.8L60.3 372.8L60.9 372.9L61.6 372.7L62.3 372.9L63.1 372.8L63.9 372.9L64.8 372.9L65.6 372.8L66.6 372.8L67.5 372.8L68.5 372.8L69.5 372.8L70.6 372.9L71.6 372.9L72.7 372.8L73.8 372.9L75.0 372.8L76.1 372.8L77.2 372.8L78.4 372.8L79.6 372.9L80.7 372.8L81.9 372.9L83.1 372.9L84.3 372.8L85.4 372.9L86.6 372.9L87.8 372.9L88.9 372.9L90.0 372.8L91.1 372.8L92.2 372.9L93.3 372.9L94.4 372.9L95.4 372.9L96.4 372.9L97.4 372.8L98.3 372.8L99.2 372.8L100.1 372.9L100.9 372.9L101.7 372.9L103.0 372.9L104.3 372.9L105.5 373.0L106.7 372.9L107.8 372.9L108.9 373.0L109.9 372.9L110.9 373.0L111.9 372.9L112.8 372.8L113.7 373.0L114.6 373.0L115.5 372.9L116.3 372.8L117.2 372.9L118.0 373.0L118.9 373.0L119.7 373.0L120.6 372.9L121.4 372.8L122.3 372.7L123.0 373.2L123.2 373.0L124.1 373.1L125.1 372.9L126.1 372.9L127.1 373.1L128.0 372.7L128.7 373.3L129.0 373.1L130.0 373.2L131.0 373.2L131.9 373.2L132.9 373.0L133.9 373.3L134.9 372.8L135.6 373.5L135.8 373.3L136.8 373.3L137.8 373.2L138.8 373.5L139.7 373.5L140.7 373.6L141.7 374.2L142.4 372.9L142.7 373.5L143.6 373.7L144.6 373.3L145.6 373.5L146.6 373.6L147.5 373.7L148.5 373.6L149.5 373.1L150.2 374.2L150.5 373.7L151.4 373.7L152.4 374.1L153.4 375.3L154.1 372.9L154.4 373.9L155.4 374.2L156.4 374.2L157.4 374.0L158.4 374.0L159.4 374.2L160.4 373.1L161.1 375.0L161.4 374.5L162.4 374.4L163.4 374.2L164.4 374.6L165.3 373.2L166.0 375.4L166.3 374.6L167.2 374.6L168.2 374.8L169.1 374.7L170.0 374.6L170.9 374.9L171.8 376.3L172.5 373.9L172.9 375.0L174.0 375.2L175.1 375.3L176.2 375.5L177.3 375.4L178.4 374.9L179.1 375.9L179.5 375.7L180.6 375.6L181.7 375.7L182.7 375.9L183.7 376.7L184.4 375.6L184.7 376.0L185.6 376.3L186.5 376.5L187.4 376.5L188.3 376.5L189.0 376.8L189.8 377.8L190.5 375.9L190.5 376.6L192.1 376.7L193.3 377.0L194.2 376.7L194.9 377.0L195.7 376.7L196.5 376.6L197.5 375.7L198.2 377.4L198.3 376.4L199.2 376.4L200.1 376.4L201.0 376.4L201.9 376.6L202.6 375.9L202.8 376.1L203.8 375.8L204.8 375.8L205.8 375.5L206.9 375.7L207.7 375.1L208.4 375.8L208.5 375.5L209.4 375.3L210.2 375.4L211.0 375.1L211.9 375.1L212.8 375.1L213.7 374.0L214.4 375.6L214.7 375.1L215.7 374.9L216.7 374.8L217.8 374.7L219.0 374.7L219.8 373.8L220.5 375.6L220.7 374.9L221.6 374.8L222.5 375.1L223.5 375.0L224.5 374.9L225.5 375.3L226.5 376.0L227.2 374.6L227.6 375.1L228.6 375.2L229.7 375.3L230.7 375.4L231.8 375.5L232.8 376.6L233.5 375.0L233.9 375.6L234.9 375.7L236.0 375.8L237.0 376.2L238.0 376.0L239.0 375.1L239.7 376.9L240.0 376.3L241.0 376.3L242.0 376.6L243.0 376.7L244.0 376.8L245.0 376.0L245.7 377.3L246.0 376.8L247.0 376.9L247.9 377.2L248.9 377.2L249.9 378.3L250.6 376.6L250.9 377.3L251.9 377.5L252.9 377.5L253.9 377.6L254.9 377.8L255.9 378.1L256.9 379.2L257.6 377.2L257.9 378.0L258.9 378.3L259.9 378.3L260.9 378.2L261.9 378.6L262.9 377.4L263.6 379.2L263.9 378.3L264.9 378.7L265.9 378.5L266.9 378.7L267.9 378.8L268.9 378.9L269.9 378.2L270.6 379.4L270.9 379.1L271.9 379.2L272.9 379.3L273.9 379.5L274.9 379.4L275.9 380.2L276.6 379.0L276.9 379.8L277.9 379.7L278.9 379.7L280.0 380.7L280.7 379.5L281.0 380.2L282.0 380.3L283.1 380.3L284.1 380.6L285.1 380.9L286.2 381.1L287.2 381.4L287.9 380.8L288.2 381.3L289.2 381.5L290.2 381.4L291.2 381.7L292.1 381.7L293.1 382.0L294.0 382.1L294.9 382.2L296.0 382.4L297.0 382.5L298.0 382.6L299.0 382.7L300.0 382.9L301.0 383.1L302.0 383.2L302.9 383.3L303.9 383.4L304.8 383.5L305.7 383.5L306.6 383.8L307.5 383.8L308.3 384.1L309.2 384.2L310.0 384.3L311.1 384.6L312.2 384.8L313.3 385.0L314.4 385.3L315.4 385.5L316.4 385.9L317.4 386.1L318.3 386.5L319.2 386.7L320.0 386.9L320.7 387.1L321.4 387.3L322.7 387.7L323.4 387.7L323.9 387.9L325.0 388.2L325.8 388.4L326.6 388.8L327.6 389.1L328.6 389.4L329.6 389.8L330.7 390.2L331.8 390.7L332.8 391.3L333.8 391.9L334.8 392.6L335.7 393.4L336.7 394.3L337.7 395.2L338.6 396.2L339.6 397.2L340.6 398.1L341.5 399.0L342.5 399.8L343.5 400.5L344.5 401.3L345.4 402.0L346.4 402.7L347.4 403.3L348.4 404.0L349.3 404.6L350.3 405.3L351.3 405.9L352.3 406.6L353.2 407.2L354.1 407.9L355.1 408.6L356.0 409.2L357.0 409.8L357.9 410.4L359.0 411.1L360.0 411.7L360.9 412.2L361.8 412.7L362.7 413.2L363.7 413.8L364.7 414.2L365.6 414.7L366.6 415.2L367.6 415.7L368.6 416.1L369.5 416.5L370.5 416.9L371.5 417.3L372.4 417.6L373.4 417.9L374.3 418.2L375.3 418.5L376.2 418.7L377.2 419.0L378.1 419.2L379.1 419.5L380.0 419.7L381.0 419.9L382.0 420.1L382.9 420.3L383.9 420.5L384.8 420.7L385.8 420.8L386.7 421.0L387.7 421.2L388.6 421.3L389.6 421.5L390.5 421.6L391.5 421.7L392.5 421.8L393.5 421.9L394.6 422.0L395.6 422.1L396.7 422.2L397.7 422.3L398.7 422.3L399.6 422.4L400.5 422.3L401.3 422.3L402.0 422.2L403.3 421.8L404.1 421.2L404.7 420.3L405.6 419.0L406.4 417.8L407.2 416.5L408.1 414.9L409.0 413.3L409.9 411.7L410.8 410.3L411.7 409.0L412.6 407.7L413.5 406.4L414.3 405.3L415.2 404.2L416.1 403.3L416.9 402.5L417.7 401.8L418.5 401.3L419.3 400.8L420.2 400.4L421.3 400.1L422.1 400.0L423.0 399.9L423.9 399.8L424.9 399.8L425.9 399.8L427.0 399.9L428.0 399.9L429.1 400.0L430.1 400.1L431.0 400.2L432.0 400.3L433.0 400.5L434.0 400.7L434.9 400.9L435.9 401.0L437.0 401.2L438.0 401.5L439.0 401.7L440.0 401.9L440.9 402.1L441.9 402.3L442.8 402.5L443.8 402.7L444.7 403.0L445.7 403.3L446.7 403.5L447.6 403.7L448.6 404.0L449.5 404.2L450.5 404.5L451.5 404.8L452.5 405.1L453.5 405.3L454.5 405.6L455.5 405.9L456.5 406.2L457.4 406.5L458.4 406.8L459.3 407.1L460.2 407.4L461.0 407.7L462.2 408.2L463.3 408.6L464.2 409.0L465.2 409.4L466.1 409.9L467.0 410.2L468.0 410.6L469.0 410.9L469.9 411.2L470.8 411.5L471.8 411.8L472.7 412.1L473.8 412.2L475.0 412.4L475.8 412.5L476.7 412.5L477.6 412.5L478.6 412.6L479.5 412.6L480.5 412.6L481.5 412.6L482.5 412.5L483.5 412.5L484.5 412.4L485.5 412.4L486.5 412.4L487.4 412.3L488.4 412.2L489.4 412.2L490.4 412.1L491.3 412.0L492.3 411.9L493.3 411.8L494.2 411.7L495.1 411.6L496.0 411.5L497.1 411.4L498.1 411.2L499.2 411.0L500.2 410.8L501.2 410.6L502.2 410.4L503.1 410.2L504.0 410.0L504.8 409.8L505.9 409.5L506.8 409.1L507.7 408.7L508.5 408.3L509.2 408.1L510.0 408.0L510.9 408.2L511.8 408.7L512.7 409.2L513.5 409.6L514.4 409.8L515.2 409.7L516.0 409.4L516.9 409.0L517.8 408.6L518.8 408.0L519.6 407.5L520.6 406.9L521.5 406.2L522.5 405.5L523.6 404.8L524.7 404.3L525.8 403.8L526.7 403.6L527.7 403.4L528.7 403.4L529.8 403.3L530.8 403.3L531.9 403.3L532.9 403.3L533.8 403.2L534.6 403.2L535.7 403.1L536.6 403.1L537.4 403.0L538.2 403.0L539.0 402.8L539.8 402.6L540.7 402.3L541.5 401.8L542.3 401.3L543.2 400.7L544.1 400.0L545.1 399.4L546.0 398.7L547.1 398.0L548.1 397.2L549.2 396.4L550.3 395.7L551.2 394.9L552.1 394.4L553.2 393.7L554.0 393.4L554.8 393.1L556.0 392.8L556.8 392.6L557.6 392.4L558.5 392.2L559.5 392.0L560.5 391.8L561.5 391.7L562.5 391.6L563.5 391.7L564.4 391.8L565.3 392.0L566.2 392.2L567.1 392.5L568.0 392.8L569.0 393.2L569.9 393.7L570.9 394.2L571.8 394.8L572.8 395.5L573.7 396.4L574.7 397.4L575.7 398.5L576.7 399.6L577.7 400.6L578.6 401.6L579.6 402.5L580.5 403.2L581.5 403.8L582.4 404.3L583.3 404.6L584.2 404.9L585.1 405.2L586.0 405.4L587.0 405.8L588.0 406.2L588.9 406.7L589.9 407.2L591.0 407.7L592.0 408.3L593.1 408.9L594.1 409.5L595.1 410.0L596.1 410.6L597.0 411.1L598.1 411.8L599.0 412.5L599.9 413.2L600.8 413.9L601.7 414.4L602.6 414.8L603.5 415.0L604.5 414.9L605.5 414.6L606.5 414.1L607.5 413.5L608.5 412.9L609.5 412.3L610.4 411.9L611.4 411.5L612.4 411.1L613.4 410.7L614.3 410.4L615.2 410.2L616.2 410.2L617.1 410.4L618.1 410.7L619.0 411.1L619.9 411.6L621.0 412.2L622.1 412.8L622.9 413.2L623.8 413.7L624.8 414.2L625.8 414.7L626.7 415.2L627.7 415.8L628.7 416.3L629.6 416.6L630.5 417.0L631.5 417.4L632.5 417.8L633.5 418.1L634.4 418.3L635.3 418.4L636.3 418.5L637.2 418.3L638.1 418.0L639.1 417.5L640.0 416.9L640.9 416.1L641.9 415.3L642.9 414.5L643.9 413.6L644.8 412.9L645.7 412.1L646.6 411.3L647.5 410.4L648.5 409.5L649.4 408.6L650.4 407.7L651.4 406.8L652.3 406.0L653.3 405.2L654.3 404.4L655.3 403.6L656.3 402.8L657.3 402.0L658.3 401.3L659.2 400.6L660.0 399.9L660.7 399.3L662.0 398.1L662.9 397.0L663.6 396.1L664.1 395.5" fill="none" stroke="#000000" stroke-width="3.5" stroke-linejoin="round" stroke-linecap="round"/>
<line x1="191.5" y1="60.4" x2="200.3" y2="77.6" stroke="#000" stroke-width="3.4" stroke-linecap="round"/>
<line x1="291.1" y1="64.5" x2="297.0" y2="90.5" stroke="#000" stroke-width="3.4" stroke-linecap="round"/>
<line x1="406.3" y1="105.0" x2="397.8" y2="137.0" stroke="#000" stroke-width="3.4" stroke-linecap="round"/>
<line x1="501.8" y1="75.0" x2="510.0" y2="97.3" stroke="#000" stroke-width="3.4" stroke-linecap="round"/>
<line x1="643.5" y1="85.0" x2="634.7" y2="106.4" stroke="#000" stroke-width="3.4" stroke-linecap="round"/>
<line x1="198.6" y1="134.0" x2="206.6" y2="161.0" stroke="#000" stroke-width="3.4" stroke-linecap="round"/>
<line x1="406.8" y1="187.2" x2="417.4" y2="208.2" stroke="#000" stroke-width="3.4" stroke-linecap="round"/>
<line x1="499.0" y1="159.5" x2="503.4" y2="180.0" stroke="#000" stroke-width="3.4" stroke-linecap="round"/>
<line x1="594.0" y1="156.4" x2="577.0" y2="188.2" stroke="#000" stroke-width="3.4" stroke-linecap="round"/>
<line x1="642.0" y1="179.4" x2="624.3" y2="201.0" stroke="#000" stroke-width="3.4" stroke-linecap="round"/>
<line x1="192.3" y1="210.5" x2="207.2" y2="235.6" stroke="#000" stroke-width="3.4" stroke-linecap="round"/>
<line x1="414.6" y1="249.3" x2="423.7" y2="278.6" stroke="#000" stroke-width="3.4" stroke-linecap="round"/>
<line x1="497.8" y1="240.2" x2="503.7" y2="274.0" stroke="#000" stroke-width="3.4" stroke-linecap="round"/>
<line x1="644.2" y1="248.0" x2="627.4" y2="271.2" stroke="#000" stroke-width="3.4" stroke-linecap="round"/>
<line x1="195.7" y1="297.3" x2="210.2" y2="321.8" stroke="#000" stroke-width="3.4" stroke-linecap="round"/>
<line x1="400.3" y1="348.7" x2="411.1" y2="378.6" stroke="#000" stroke-width="3.4" stroke-linecap="round"/>
<line x1="513.5" y1="328.9" x2="521.8" y2="360.2" stroke="#000" stroke-width="3.4" stroke-linecap="round"/>
<line x1="601.7" y1="331.2" x2="586.4" y2="358.9" stroke="#000" stroke-width="3.4" stroke-linecap="round"/>
<line x1="642.1" y1="341.2" x2="625.8" y2="366.3" stroke="#000" stroke-width="3.4" stroke-linecap="round"/>
<line x1="200.3" y1="378.0" x2="209.5" y2="405.9" stroke="#000" stroke-width="3.4" stroke-linecap="round"/>
<line x1="403.8" y1="422.0" x2="425.4" y2="446.8" stroke="#000" stroke-width="3.4" stroke-linecap="round"/>
<line x1="485.9" y1="413.8" x2="503.3" y2="440.8" stroke="#000" stroke-width="3.4" stroke-linecap="round"/>
<line x1="603.1" y1="416.4" x2="588.0" y2="437.4" stroke="#000" stroke-width="3.4" stroke-linecap="round"/>
<line x1="635.9" y1="422.2" x2="624.6" y2="442.4" stroke="#000" stroke-width="3.4" stroke-linecap="round"/>
<text transform="translate(221.6 97.0) rotate(-90)" text-anchor="middle" font-size="17.5">1645</text>
<text transform="translate(313.9 105.7) rotate(-90)" text-anchor="middle" font-size="17.5">1385</text>
<text transform="translate(392.9 141.4) rotate(-90)" text-anchor="middle" font-size="17.5">1084</text>
<text transform="translate(525.3 111.3) rotate(-90)" text-anchor="middle" font-size="17.5">829</text>
<text transform="translate(631.9 123.8) rotate(-90)" text-anchor="middle" font-size="17.5">458</text>
<text transform="translate(222.1 181.2) rotate(-90)" text-anchor="middle" font-size="17.5">1645</text>
<text transform="translate(433.5 215.6) rotate(-90)" text-anchor="middle" font-size="17.5">1076</text>
<text transform="translate(509.9 197.4) rotate(-90)" text-anchor="middle" font-size="17.5">839</text>
<text transform="translate(579.7 205.8) rotate(-90)" text-anchor="middle" font-size="17.5">615</text>
<text transform="translate(620.9 212.1) rotate(-90)" text-anchor="middle" font-size="17.5">454</text>
<text transform="translate(217.7 257.4) rotate(-90)" text-anchor="middle" font-size="17.5">1645</text>
<text transform="translate(441.9 289.3) rotate(-90)" text-anchor="middle" font-size="17.5">1076</text>
<text transform="translate(516.5 290.4) rotate(-90)" text-anchor="middle" font-size="17.5">848</text>
<text transform="translate(625.2 281.6) rotate(-90)" text-anchor="middle" font-size="17.5">454</text>
<text transform="translate(218.8 339.7) rotate(-90)" text-anchor="middle" font-size="17.5">1645</text>
<text transform="translate(430.9 380.7) rotate(-90)" text-anchor="middle" font-size="17.5">1095</text>
<text transform="translate(534.9 372.0) rotate(-90)" text-anchor="middle" font-size="17.5">800</text>
<text transform="translate(586.5 369.4) rotate(-90)" text-anchor="middle" font-size="17.5">563</text>
<text transform="translate(624.9 374.8) rotate(-90)" text-anchor="middle" font-size="17.5">468</text>
<text transform="translate(218.0 430.6) rotate(-90)" text-anchor="middle" font-size="17.5">1645</text>
<text transform="translate(441.1 436.3) rotate(-90)" text-anchor="middle" font-size="17.5">1105</text>
<text transform="translate(523.1 443.7) rotate(-90)" text-anchor="middle" font-size="17.5">891</text>
<text transform="translate(585.8 441.5) rotate(-90)" text-anchor="middle" font-size="17.5">563</text>
<text transform="translate(620.8 443.8) rotate(-90)" text-anchor="middle" font-size="17.5">473</text>
<text x="78.22" y="44.8" font-size="32.0">(</text>
<text x="110.83" y="44.8" font-size="32.0">)</text>
<text x="99.75" y="44.8" font-size="34.5" text-anchor="middle">a</text>
<text x="75.22" y="116.1" font-size="32.0">(</text>
<text x="108.23" y="116.1" font-size="32.0">)</text>
<text x="97.35" y="116.1" font-size="35.0" text-anchor="middle">b</text>
<text x="73.52" y="192.6" font-size="32.0">(</text>
<text x="104.53" y="192.6" font-size="32.0">)</text>
<text x="94.80" y="192.6" font-size="37.0" text-anchor="middle">c</text>
<text x="70.72" y="278.0" font-size="32.0">(</text>
<text x="103.33" y="278.0" font-size="32.0">)</text>
<text x="91.75" y="278.0" font-size="35.5" text-anchor="middle">d</text>
<text x="70.72" y="360.8" font-size="32.0">(</text>
<text x="103.33" y="360.8" font-size="32.0">)</text>
<text x="92.10" y="360.8" font-size="36.5" text-anchor="middle">e</text>
<rect x="58.2" y="1.6" width="606.6" height="458.7" fill="none" stroke="#000" stroke-width="3.4"/>
<line x1="58.2" y1="460" x2="58.2" y2="468.8" stroke="#000" stroke-width="3.3" stroke-linecap="round"/>
<text x="58.2" y="494.3" text-anchor="middle" font-size="25">2000</text>
<line x1="134.0" y1="460" x2="134.0" y2="468.8" stroke="#000" stroke-width="3.3" stroke-linecap="round"/>
<text x="134.0" y="494.3" text-anchor="middle" font-size="25">1800</text>
<line x1="209.8" y1="460" x2="209.8" y2="468.8" stroke="#000" stroke-width="3.3" stroke-linecap="round"/>
<text x="209.8" y="494.3" text-anchor="middle" font-size="25">1600</text>
<line x1="285.7" y1="460" x2="285.7" y2="468.8" stroke="#000" stroke-width="3.3" stroke-linecap="round"/>
<text x="285.7" y="494.3" text-anchor="middle" font-size="25">1400</text>
<line x1="361.5" y1="460" x2="361.5" y2="468.8" stroke="#000" stroke-width="3.3" stroke-linecap="round"/>
<text x="361.5" y="494.3" text-anchor="middle" font-size="25">1200</text>
<line x1="437.3" y1="460" x2="437.3" y2="468.8" stroke="#000" stroke-width="3.3" stroke-linecap="round"/>
<text x="437.3" y="494.3" text-anchor="middle" font-size="25">1000</text>
<line x1="513.1" y1="460" x2="513.1" y2="468.8" stroke="#000" stroke-width="3.3" stroke-linecap="round"/>
<text x="513.1" y="494.3" text-anchor="middle" font-size="25">800</text>
<line x1="589.0" y1="460" x2="589.0" y2="468.8" stroke="#000" stroke-width="3.3" stroke-linecap="round"/>
<text x="589.0" y="494.3" text-anchor="middle" font-size="25">600</text>
<line x1="664.8" y1="460" x2="664.8" y2="468.8" stroke="#000" stroke-width="3.3" stroke-linecap="round"/>
<text x="664.8" y="494.3" text-anchor="middle" font-size="25">400</text>
<line x1="96.1" y1="460" x2="96.1" y2="464.2" stroke="#000" stroke-width="3.3" stroke-linecap="round"/>
<line x1="171.9" y1="460" x2="171.9" y2="464.2" stroke="#000" stroke-width="3.3" stroke-linecap="round"/>
<line x1="247.8" y1="460" x2="247.8" y2="464.2" stroke="#000" stroke-width="3.3" stroke-linecap="round"/>
<line x1="323.6" y1="460" x2="323.6" y2="464.2" stroke="#000" stroke-width="3.3" stroke-linecap="round"/>
<line x1="399.4" y1="460" x2="399.4" y2="464.2" stroke="#000" stroke-width="3.3" stroke-linecap="round"/>
<line x1="475.2" y1="460" x2="475.2" y2="464.2" stroke="#000" stroke-width="3.3" stroke-linecap="round"/>
<line x1="551.1" y1="460" x2="551.1" y2="464.2" stroke="#000" stroke-width="3.3" stroke-linecap="round"/>
<line x1="626.9" y1="460" x2="626.9" y2="464.2" stroke="#000" stroke-width="3.3" stroke-linecap="round"/>
<text x="184.3" y="540.6" font-size="44" textLength="327" lengthAdjust="spacingAndGlyphs">Wavenumber/cm</text>
<rect x="511.9" y="510.7" width="12.2" height="1.7" fill="#000"/>
<text x="525.16" y="517.6" font-size="25.5">1</text>
<text transform="translate(31.2 359.8) rotate(-90)" font-size="43" textLength="272" lengthAdjust="spacingAndGlyphs">Transmittance</text>
</svg></body></html>
